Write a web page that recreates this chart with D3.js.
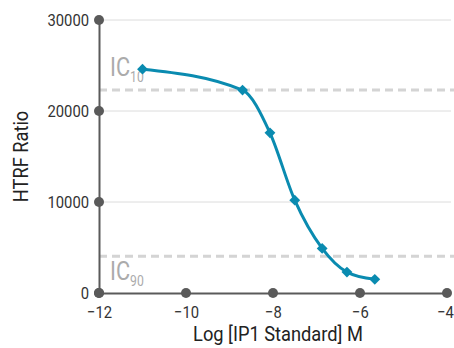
<!DOCTYPE html>
<html>
<head>
<meta charset="utf-8">
<script src="https://cdn.jsdelivr.net/npm/d3@7"></script>
<style>
  body { margin: 0; background: #fff; }
  text { font-family: Roboto, sans-serif; }
</style>
</head>
<body>
<div id="chart"></div>
<script>
// data
const logConc = [-11, -8.7, -8.07, -7.5, -6.87, -6.3, -5.66];
const ratio   = [24600, 22300, 17600, 10200, 4900, 2300, 1500];
const xTicks = [-12, -10, -8, -6, -4];
const yTicks = [0, 10000, 20000, 30000];
const icLines = [{name: "10", value: 22300}, {name: "90", value: 4050}];

const W = 454, H = 348;
const margin = {top: 20, right: 7, bottom: 55, left: 99};
const squeeze = 0.87; // fake a condensed face

const svg = d3.select("#chart").append("svg")
  .attr("width", W).attr("height", H);

const x = d3.scaleLinear().domain([-12, -4]).range([margin.left, W - margin.right]);
const y = d3.scaleLinear().domain([0, 30000]).range([H - margin.bottom, margin.top]);

const axisColor = "#5a5a5a";

// light gridlines
svg.selectAll(".grid")
  .data(yTicks.filter(d => d > 0))
  .join("line")
    .attr("x1", x(-12)).attr("x2", W - 3)
    .attr("y1", d => y(d)).attr("y2", d => y(d))
    .attr("stroke", "#dcdcdc").attr("stroke-width", 1);

// IC dashed lines
svg.selectAll(".ic")
  .data(icLines)
  .join("line")
    .attr("x1", x(-12)).attr("x2", W)
    .attr("y1", d => y(d.value)).attr("y2", d => y(d.value))
    .attr("stroke", "#d4d4d4").attr("stroke-width", 3)
    .attr("stroke-dasharray", "8,5");

const icLab = svg.selectAll(".iclab")
  .data(icLines)
  .join("text")
    .attr("transform", d => `translate(${x(-12) + 11},${y(d.value) + (d.name === "10" ? -14 : 24)}) scale(${squeeze},1)`)
    .attr("fill", "#ababab")
    .style("font-size", "25px");
icLab.append("tspan").text("IC");
icLab.append("tspan").attr("dy", 6).style("font-size", "14px").text(d => d.name);

// axes
const yAxis = svg.append("g")
  .attr("transform", `translate(${x(-12)},0)`)
  .call(d3.axisLeft(y).tickValues(yTicks).tickSize(0).tickPadding(10).tickFormat(d3.format("d")));
yAxis.select(".domain").attr("stroke", axisColor).attr("stroke-width", 2);
yAxis.selectAll(".tick text")
  .attr("x", -10 / squeeze)
  .attr("transform", `scale(${squeeze},1)`)
  .style("font-size", "17px").attr("fill", "#333");

const xAxis = svg.append("g")
  .attr("transform", `translate(0,${y(0)})`)
  .call(d3.axisBottom(x).tickValues(xTicks).tickSize(0).tickPadding(13).tickFormat(d3.format("d")));
xAxis.select(".domain").attr("stroke", axisColor).attr("stroke-width", 2);
xAxis.selectAll(".tick text")
  .attr("x", d => d === -4 ? -2 / squeeze : 0)
  .attr("transform", `scale(${squeeze},1)`)
  .style("font-size", "17px").attr("fill", "#333");

// tick dots
svg.selectAll(".ydot").data(yTicks).join("circle")
  .attr("cx", x(-12)).attr("cy", d => y(d)).attr("r", 5).attr("fill", axisColor);
svg.selectAll(".xdot").data(xTicks).join("circle")
  .attr("cx", d => x(d)).attr("cy", y(0)).attr("r", 5).attr("fill", axisColor);

// axis titles
svg.append("text")
  .attr("transform", `translate(${(x(-12) + x(-4)) / 2 + 5},${H - 7}) scale(${squeeze},1)`)
  .attr("text-anchor", "middle").attr("fill", "#222")
  .style("font-size", "21px")
  .text("Log [IP1 Standard] M");

svg.append("text")
  .attr("transform", `translate(28,${(y(0) + y(30000)) / 2}) rotate(-90) scale(${squeeze},1)`)
  .attr("text-anchor", "middle").attr("fill", "#222")
  .style("font-size", "21px")
  .text("HTRF Ratio");

// curve + markers
const pts = logConc.map((c, i) => [c, ratio[i]]);
const teal = "#0a8bb0";

svg.append("path")
  .datum(pts)
  .attr("fill", "none").attr("stroke", teal).attr("stroke-width", 3)
  .attr("d", d3.line().x(d => x(d[0])).y(d => y(d[1])).curve(d3.curveMonotoneX));

svg.selectAll(".pt").data(pts).join("path")
  .attr("transform", d => `translate(${x(d[0])},${y(d[1])})`)
  .attr("d", d3.symbol(d3.symbolDiamond2, 75))
  .attr("fill", teal);
</script>
</body>
</html>
